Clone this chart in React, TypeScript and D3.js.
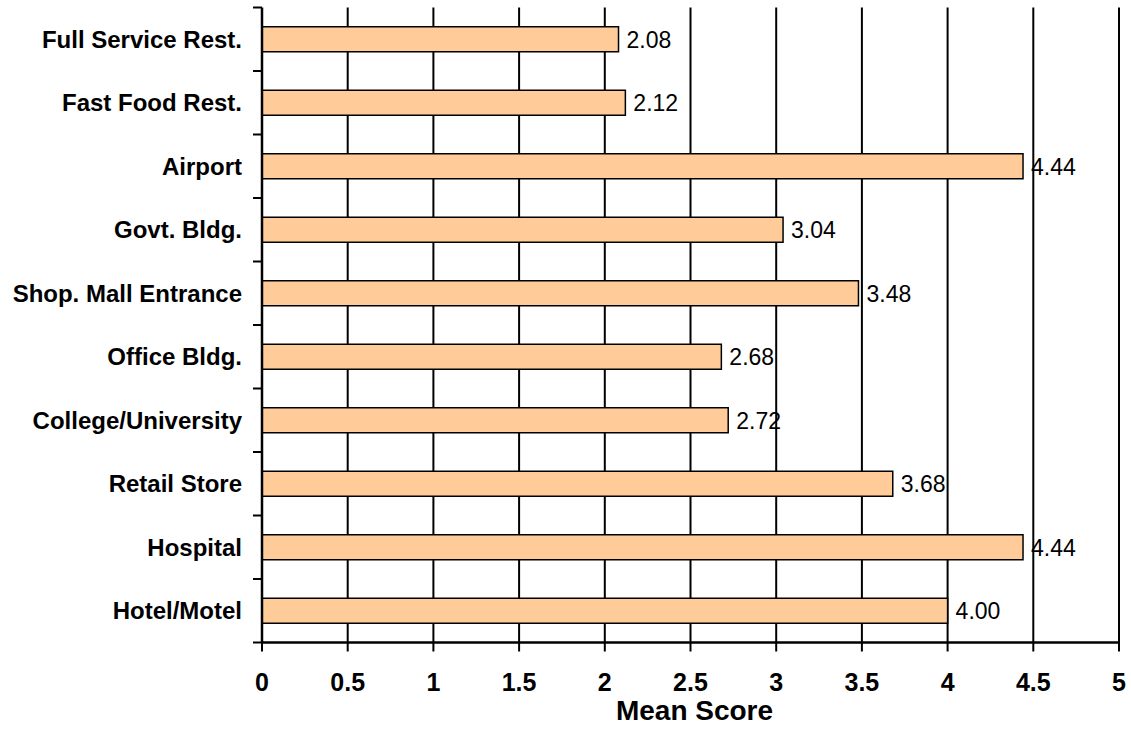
import React from "react";
import * as d3 from "d3";

const categories = [
  "Full Service Rest.",
  "Fast Food Rest.",
  "Airport",
  "Govt. Bldg.",
  "Shop. Mall Entrance",
  "Office Bldg.",
  "College/University",
  "Retail Store",
  "Hospital",
  "Hotel/Motel",
];
const values = [2.08, 2.12, 4.44, 3.04, 3.48, 2.68, 2.72, 3.68, 4.44, 4.0];
const xTicks = [0, 0.5, 1, 1.5, 2, 2.5, 3, 3.5, 4, 4.5, 5];
const xTitle = "Mean Score";

export default function App() {
  const W = 1131, H = 730;
  const left = 262, right = 1119, top = 7.5, bottom = 642.5;
  const x = d3.scaleLinear().domain([0, 5]).range([left, right]);
  const y = d3.scaleBand().domain(categories).range([top, bottom]).paddingInner(0).paddingOuter(0);
  const bw = y.bandwidth();
  const barH = 25;
  const font = "Arial, 'Liberation Sans', sans-serif";
  const boundaries = d3.range(categories.length + 1).map((i) => top + i * bw);
  return (
    <svg width={W} height={H} style={{ position: "absolute", left: 0, top: 0 }}>
      <rect x={0} y={0} width={W} height={H} fill="#fff" />
      {xTicks.slice(1).map((t) => (
        <line key={"g" + t} x1={x(t)} x2={x(t)} y1={top} y2={bottom} stroke="#000" strokeWidth={2} />
      ))}
      {categories.map((c, i) => {
        const cy = (y(c) as number) + bw / 2;
        return (
          <g key={c}>
            <rect x={x(0)} y={cy - barH / 2} width={x(values[i]) - x(0)} height={barH} fill="#FFCC99" stroke="#000" strokeWidth={1.5} />
            <text x={x(values[i]) + 8} y={cy} dy="0.36em" fontFamily={font} fontSize={23} fill="#000">
              {values[i].toFixed(2)}
            </text>
            <text x={242} y={cy} dy="0.36em" textAnchor="end" fontFamily={font} fontSize={24} fontWeight="bold" fill="#000">
              {c}
            </text>
          </g>
        );
      })}
      {boundaries.map((b, i) => (
        <line key={"yt" + i} x1={253} x2={left} y1={b} y2={b} stroke="#000" strokeWidth={2} />
      ))}
      <line x1={left} x2={left} y1={top} y2={bottom} stroke="#000" strokeWidth={2.5} />
      <line x1={left} x2={right + 1} y1={bottom} y2={bottom} stroke="#000" strokeWidth={2.5} />
      {xTicks.map((t) => (
        <g key={"xt" + t}>
          <line x1={x(t)} x2={x(t)} y1={bottom} y2={bottom + 9} stroke="#000" strokeWidth={2} />
          <text x={x(t)} y={690.5} textAnchor="middle" fontFamily={font} fontSize={25} fontWeight="bold" fill="#000">
            {t}
          </text>
        </g>
      ))}
      <text x={x(2.5) + 4} y={720} textAnchor="middle" fontFamily={font} fontSize={28} fontWeight="bold" fill="#000">
        {xTitle}
      </text>
    </svg>
  );
}
